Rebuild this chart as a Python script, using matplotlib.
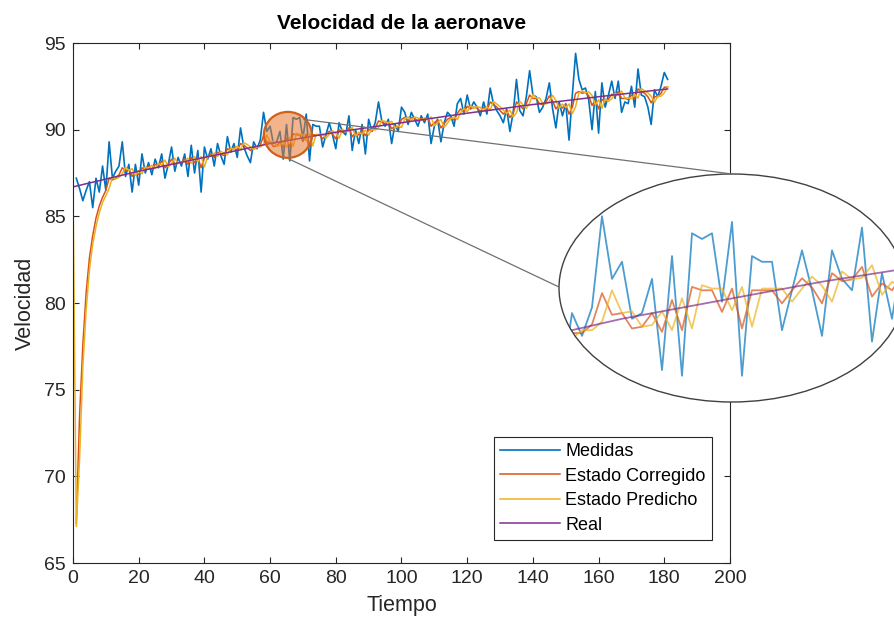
import numpy as np
import matplotlib
matplotlib.use("Agg")
import matplotlib.pyplot as plt
from matplotlib.patches import Ellipse
from matplotlib.lines import Line2D

plt.rcParams['font.family'] = ['Liberation Sans', 'DejaVu Sans']

# Medidas (t = 1..181)
medidas = [
    87.2, 86.6, 85.9, 86.5, 87.0, 85.5, 87.2, 86.4, 87.9, 86.5,
    89.3, 87.2, 87.6, 87.9, 89.3, 87.3, 88.0, 86.4, 88.0, 86.8,
    88.6, 87.5, 88.1, 87.4, 88.3, 87.8, 88.6, 87.2, 88.0, 89.0,
    87.6, 88.4, 87.9, 88.6, 87.3, 89.1, 87.5, 88.8, 86.4, 89.0,
    88.3, 88.9, 87.9, 89.2, 88.5, 88.0, 89.6, 88.7, 89.2, 88.4,
    90.1, 89.0, 88.5, 88.1, 89.3, 88.9, 89.4, 91.0, 89.9, 90.2,
    89.2, 89.3, 89.9, 88.3, 90.3, 88.2, 90.7, 90.6, 90.7, 89.5,
    90.9, 88.2, 90.3, 90.2, 90.2, 89.0, 89.7, 90.4, 89.7, 88.9,
    90.4, 89.9, 89.7, 90.8, 88.8, 90.0, 89.2, 90.3, 88.6, 90.6,
    89.9, 90.4, 91.6, 90.5, 90.2, 90.6, 89.2, 90.3, 89.9, 91.3,
    91.0, 90.3, 91.0, 90.6, 90.2, 90.8, 90.4, 90.9, 89.2, 90.2,
    90.6, 89.3, 90.4, 91.0, 90.8, 90.2, 91.5, 91.8, 90.9, 92.0,
    91.2, 91.6, 91.3, 90.8, 91.6, 90.9, 92.4, 91.5, 91.1, 90.8,
    90.4, 91.2, 89.9, 91.0, 92.9, 91.1, 90.8, 91.9, 93.4, 92.0,
    91.9, 91.0, 91.3, 91.8, 92.7, 91.2, 90.1, 91.6, 90.8, 91.5,
    89.4, 92.0, 94.4, 92.9, 92.3, 92.4, 91.7, 90.0, 92.2, 89.8,
    92.7, 91.3, 92.0, 92.8, 91.8, 92.8, 91.0, 91.6, 91.5, 92.5,
    91.3, 93.5, 92.0, 91.9, 91.3, 90.3, 92.3, 91.9, 92.5, 93.3,
    92.9,
]

# Estado corregido (t = 1..181)
corregido = [
    67.3, 73.5, 77.6, 80.6, 82.6, 83.9, 84.9, 85.6, 86.1, 86.5,
    87.2, 87.1, 87.2, 87.4, 87.8, 87.6, 87.7, 87.3, 87.6, 87.4,
    87.8, 87.7, 87.9, 87.7, 88.0, 87.9, 88.2, 87.8, 88.0, 88.3,
    88.0, 88.1, 88.1, 88.3, 88.0, 88.4, 88.1, 88.4, 87.8, 88.4,
    88.4, 88.6, 88.4, 88.7, 88.6, 88.5, 88.9, 88.8, 89.0, 88.8,
    89.2, 89.1, 88.95, 88.8, 88.95, 88.95, 89.1, 89.65, 89.27, 89.3,
    89.03, 89.06, 89.3, 88.97, 89.53, 89.0, 89.76, 89.7, 89.7, 89.32,
    89.73, 89.03, 89.7, 89.7, 89.7, 89.47, 89.7, 89.91, 89.75, 89.47,
    90.0, 89.86, 89.89, 90.11, 89.59, 89.82, 89.7, 89.95, 89.65, 90.0,
    89.95, 90.1, 90.5, 90.45, 90.35, 90.45, 90.05, 90.2, 90.1, 90.6,
    90.7, 90.5, 90.7, 90.65, 90.5, 90.65, 90.55, 90.7, 90.2, 90.4,
    90.55, 90.1, 90.35, 90.6, 90.7, 90.55, 90.95, 91.2, 91.0, 91.35,
    91.2, 91.3, 91.25, 91.05, 91.3, 91.1, 91.6, 91.45, 91.3, 91.1,
    90.9, 91.1, 90.7, 90.95, 91.6, 91.4, 91.2, 91.5, 92.0, 91.8,
    91.8, 91.5, 91.45, 91.6, 91.95, 91.65, 91.2, 91.45, 91.25, 91.45,
    90.9, 91.3, 92.1, 92.2, 92.1, 92.15, 91.95, 91.4, 91.7, 91.2,
    91.75, 91.6, 91.75, 92.05, 91.95, 92.2, 91.8, 91.8, 91.75, 92.0,
    91.8, 92.35, 92.2, 92.1, 91.9, 91.55, 91.9, 91.9, 92.1, 92.45,
    92.45,
]

# Estado predicho (t = 0..181)
predicho = [
    86.6,
    67.1, 71.0, 76.3, 79.6, 81.9, 83.4, 84.4, 85.2, 85.8, 86.2,
    86.6, 87.25, 87.15, 87.25, 87.45, 87.85, 87.65, 87.75, 87.35, 87.65,
    87.45, 87.85, 87.75, 87.95, 87.75, 88.05, 87.95, 88.25, 87.85, 88.05,
    88.35, 88.05, 88.15, 88.15, 88.35, 88.05, 88.45, 88.15, 88.45, 87.85,
    88.45, 88.45, 88.65, 88.45, 88.75, 88.65, 88.55, 88.95, 88.85, 89.05,
    88.85, 89.25, 89.15, 89.0, 88.85, 89.0, 89.0, 89.15, 89.7, 89.3,
    89.33, 89.06, 89.09, 89.33, 89.0, 89.56, 89.03, 89.79, 89.73, 89.73,
    89.35, 89.76, 89.06, 89.73, 89.73, 89.73, 89.5, 89.73, 89.94, 89.78,
    89.5, 90.03, 89.89, 89.92, 90.14, 89.62, 89.85, 89.73, 89.98, 89.68,
    90.03, 89.98, 90.13, 90.53, 90.48, 90.38, 90.48, 90.08, 90.23, 90.13,
    90.63, 90.73, 90.53, 90.73, 90.68, 90.53, 90.68, 90.58, 90.73, 90.23,
    90.43, 90.58, 90.13, 90.38, 90.63, 90.73, 90.58, 90.98, 91.23, 91.03,
    91.38, 91.23, 91.33, 91.28, 91.08, 91.33, 91.13, 91.63, 91.48, 91.33,
    91.13, 90.93, 91.13, 90.73, 90.98, 91.63, 91.43, 91.23, 91.53, 92.03,
    91.83, 91.83, 91.53, 91.48, 91.63, 91.98, 91.68, 91.23, 91.48, 91.28,
    91.48, 90.93, 91.33, 92.13, 92.23, 92.13, 92.18, 91.98, 91.43, 91.73,
    91.23, 91.78, 91.63, 91.78, 92.08, 91.98, 92.23, 91.83, 91.83, 91.78,
    92.03, 91.83, 92.38, 92.23, 92.13, 91.93, 91.58, 91.93, 91.93, 92.13,
    92.48,
]

# Velocidad real (puntos de control)
real_t = [0, 20, 40, 60, 80, 100, 120, 140, 160, 181]
real_v = [86.7, 87.6, 88.4, 89.2, 89.85, 90.4, 90.95, 91.45, 91.9, 92.35]

t_med = np.arange(1, len(medidas) + 1)
t_cor = np.arange(1, len(corregido) + 1)
t_pre = np.arange(0, len(predicho))

c_med = '#0072BD'
c_cor = '#D95319'
c_pre = '#EDB120'
c_real = '#7E2F8E'
txt = '#262626'

W, H = 895, 630
fig = plt.figure(figsize=(W / 100, H / 100), dpi=100)
ax = fig.add_axes([73 / W, 1 - 563 / H, 657 / W, 520 / H])

ax.plot(t_med, medidas, color=c_med, lw=1.2, label='Medidas')
ax.plot(t_cor, corregido, color=c_cor, lw=1.1, label='Estado Corregido')
ax.plot(t_pre, predicho, color=c_pre, lw=1.1, label='Estado Predicho')
ax.plot(real_t, real_v, color=c_real, lw=1.1, label='Real')

ax.set_xlim(0, 200)
ax.set_ylim(65, 95)
ax.set_xticks(np.arange(0, 201, 20))
ax.set_yticks(np.arange(65, 96, 5))
ax.tick_params(direction='in', top=True, right=True, length=4, width=0.8,
               labelsize=14, colors=txt, pad=5)
for s in ax.spines.values():
    s.set_color(txt)
    s.set_linewidth(0.8)

ax.set_title('Velocidad de la aeronave', fontsize=15, fontweight='bold',
             color='black', pad=10)
ax.set_xlabel('Tiempo', fontsize=15.5, color=txt, labelpad=6)
ax.set_ylabel('Velocidad', fontsize=15.5, color=txt, labelpad=6)

leg = ax.legend(loc='lower right', bbox_to_anchor=(0.9726, 0.044),
                borderaxespad=0, fontsize=13, fancybox=False,
                framealpha=1, edgecolor=txt, handlelength=3.3,
                labelspacing=0.42, handletextpad=0.3, borderpad=0.35)
leg.get_frame().set_linewidth(0.8)

# lupa sobre la curva
lens = Ellipse((65.4, 89.7), 14.6, 2.65, facecolor='#E8772E', alpha=0.55,
               edgecolor='none', zorder=5)
ax.add_patch(lens)
ax.add_patch(Ellipse((65.4, 89.7), 14.6, 2.65, facecolor='none',
                     edgecolor='#D0601A', lw=1.6, zorder=6))

# lineas de la lupa (coordenadas de figura en pixeles)
for (x0, y0), (x1, y1) in [((304, 119.5), (732, 174)), ((289, 159), (559, 287))]:
    fig.add_artist(Line2D([x0 / W, x1 / W], [1 - y0 / H, 1 - y1 / H],
                          transform=fig.transFigure, color='#707070', lw=0.9))

# vista ampliada
ex, ey, ea, eb = 732, 288, 173, 114
axi = fig.add_axes([(ex - ea) / W, 1 - (ey + eb) / H, 2 * ea / W, 2 * eb / H])
axi.set_axis_off()
axi.set_xlim(53.7, 88.3)
axi.set_ylim(87.74, 91.74)
bg = Ellipse((0.5, 0.5), 1, 1, transform=axi.transAxes, facecolor='white',
             edgecolor='none', zorder=0)
axi.add_patch(bg)
for tt, vv, cc in [(t_med, medidas, c_med), (t_cor, corregido, c_cor),
                   (t_pre, predicho, c_pre), (real_t, real_v, c_real)]:
    ln, = axi.plot(tt, vv, color=cc, lw=1.3, alpha=0.7, zorder=2)
    ln.set_clip_path(bg)
axi.add_patch(Ellipse((0.5, 0.5), 1, 1, transform=axi.transAxes,
                      facecolor='none', edgecolor='#404040', lw=1.0, zorder=3,
                      clip_on=False))

fig.savefig('out.png', dpi=100)
